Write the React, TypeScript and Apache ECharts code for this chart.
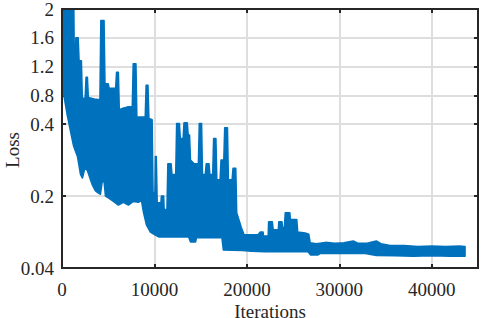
import React, { useEffect, useRef } from 'react';
import * as echarts from 'echarts';

// ---- data ----
const xTicks = [0, 10000, 20000, 30000, 40000];
const xMax = 45000;
const yTickValues = [0.04, 0.2, 0.4, 0.8, 1.2, 1.6, 2];
const yTickLabels = ['0.04', '0.2', '0.4', '0.8', '1.2', '1.6', '2'];
// non-linear scale used by the original axis (tick value -> scale position)
const yScaleStops = [0, 2.5, 5, 6, 7, 8, 9];

// upper envelope of the noisy loss curve: [iteration, loss]
const lossUpper: [number, number][] = [
  [0, 2.5], [1250, 2.5], [1350, 1.0], [1500, 1.6], [1750, 1.6], [1850, 1.28], [2100, 1.28],
  [2200, 0.76], [2500, 0.76], [2600, 1.05], [2750, 1.05], [2850, 0.77], [3500, 0.75], [4100, 0.74],
  [4200, 1.84], [4550, 1.84], [4650, 0.96], [5000, 0.96], [5100, 0.9], [5800, 0.9], [5900, 1.12],
  [6100, 1.12], [6200, 0.6], [6600, 0.62], [7100, 0.64], [7600, 0.64], [7700, 1.24], [8000, 1.24],
  [8100, 0.5], [9000, 0.5], [9100, 0.94], [9300, 0.94], [9400, 0.48], [9750, 0.46], [9850, 0.21],
  [10050, 0.21], [10100, 0.31], [10200, 0.31], [10300, 0.185], [10700, 0.185], [10750, 0.2],
  [11000, 0.2], [11050, 0.17], [11350, 0.17], [11450, 0.29], [11800, 0.29], [11900, 0.26],
  [12300, 0.26], [12400, 0.41], [12700, 0.41], [12800, 0.36], [13100, 0.36], [13200, 0.42],
  [13550, 0.42], [13650, 0.37], [13800, 0.37], [13900, 0.3], [14300, 0.29], [14750, 0.29],
  [14850, 0.41], [15100, 0.41], [15200, 0.26], [15500, 0.26], [15600, 0.29], [15900, 0.29],
  [16000, 0.26], [16300, 0.26], [16400, 0.36], [16650, 0.36], [16750, 0.245], [17100, 0.245],
  [17200, 0.3], [17500, 0.3], [17600, 0.39], [17900, 0.39], [18000, 0.245], [18400, 0.245],
  [18500, 0.277], [18800, 0.277], [18900, 0.163], [19400, 0.13], [19700, 0.114], [21200, 0.114],
  [21450, 0.12], [21750, 0.12], [21800, 0.111], [22300, 0.111], [22350, 0.143], [22750, 0.143],
  [22850, 0.125], [23400, 0.125], [23450, 0.143], [23800, 0.143], [23850, 0.13], [24050, 0.13],
  [24150, 0.163], [24650, 0.163], [24700, 0.148], [25400, 0.148], [25500, 0.12], [26300, 0.118],
  [26700, 0.115], [26850, 0.096], [27500, 0.094], [28500, 0.097], [29500, 0.095], [30500, 0.096],
  [31500, 0.1], [32000, 0.095], [33000, 0.095], [34000, 0.1], [34500, 0.094], [35500, 0.09],
  [37000, 0.09], [38500, 0.088], [40000, 0.089], [41500, 0.088], [43000, 0.089], [43600, 0.088],
];

// lower envelope of the noisy loss curve: [iteration, loss]
const lossLower: [number, number][] = [
  [0, 0.95], [200, 0.8], [560, 0.53], [920, 0.38], [1240, 0.34], [1670, 0.31], [2000, 0.26],
  [2210, 0.25], [2500, 0.28], [2750, 0.27], [3290, 0.23], [3600, 0.215], [3830, 0.21], [4160, 0.205],
  [4350, 0.24], [4550, 0.24], [4700, 0.2], [5020, 0.196], [5560, 0.188], [6100, 0.18], [6640, 0.186],
  [7180, 0.18], [7720, 0.188], [8260, 0.186], [8600, 0.19], [8800, 0.165], [9130, 0.136], [9560, 0.12],
  [10100, 0.113], [10500, 0.109], [13700, 0.109], [13900, 0.098], [14450, 0.098], [14550, 0.107],
  [17300, 0.107], [17450, 0.08], [19500, 0.079], [20500, 0.077], [22000, 0.076], [26600, 0.076],
  [26900, 0.069], [27700, 0.069], [28000, 0.073], [32800, 0.072], [34000, 0.068], [36000, 0.067],
  [38000, 0.066], [40000, 0.067], [42000, 0.066], [43600, 0.066],
];

const BLUE = '#0072BD';
const INK = '#262626';
const GRIDC = '#dedede';
const FONT = 'Liberation Serif';

function toScale(v: number): number {
  const vs = yTickValues;
  const ss = yScaleStops;
  let i = 0;
  if (v <= vs[0]) i = 0;
  else if (v >= vs[vs.length - 1]) i = vs.length - 2;
  else {
    while (v > vs[i + 1]) i++;
  }
  return ss[i] + ((v - vs[i]) * (ss[i + 1] - ss[i])) / (vs[i + 1] - vs[i]);
}

function labelFor(pos: number): string {
  for (let i = 0; i < yScaleStops.length; i++) {
    if (Math.abs(yScaleStops[i] - pos) < 1e-6) return yTickLabels[i];
  }
  return '';
}

const W = 484;
const H = 318;
const GRID_LEFT = 62;
const GRID_RIGHT = 6;
const GRID_TOP = 9;
const GRID_BOTTOM = 50;
const PLOT_W = W - GRID_LEFT - GRID_RIGHT;
const PLOT_H = H - GRID_TOP - GRID_BOTTOM;

export default function App() {
  const ref = useRef<HTMLDivElement>(null);
  useEffect(() => {
    if (!ref.current) return;
    const chart = echarts.init(ref.current, null, { renderer: 'svg' });
    const yMin = yScaleStops[0];
    const yMax = yScaleStops[yScaleStops.length - 1];
    const xInner = xTicks.filter((v) => v > xTicks[0] && v < xMax);
    const yInner = yScaleStops.filter((v) => v > yMin && v < yMax);
    chart.setOption({
      animation: false,
      grid: { left: GRID_LEFT, right: GRID_RIGHT, top: GRID_TOP, bottom: GRID_BOTTOM, outerBoundsMode: 'none' },
      xAxis: [
        {
          // labels + vertical grid lines (drawn as full-length ticks)
          type: 'value', min: xTicks[0], max: xMax, interval: 10000, position: 'bottom',
          axisLine: { show: false, onZero: false },
          axisTick: { show: true, inside: true, length: PLOT_H, customValues: xInner, lineStyle: { color: GRIDC, width: 2 } },
          axisLabel: {
            show: true, margin: 12, color: INK, fontFamily: FONT, fontSize: 19,
            customValues: xTicks, formatter: (v: number) => String(v),
          },
          splitLine: { show: false },
          name: 'Iterations', nameLocation: 'middle', nameGap: 34, nameMoveOverlap: false,
          nameTextStyle: { color: INK, fontFamily: FONT, fontSize: 19 },
        },
        {
          type: 'value', min: xTicks[0], max: xMax, interval: 10000, position: 'top',
          axisLine: { show: true, onZero: false, lineStyle: { color: INK, width: 2 } },
          axisTick: { show: true, inside: true, length: 4, customValues: xInner, lineStyle: { color: INK, width: 2 } },
          axisLabel: { show: false },
          splitLine: { show: false },
        },
        {
          type: 'value', min: xTicks[0], max: xMax, interval: 10000, position: 'bottom',
          axisLine: { show: true, onZero: false, lineStyle: { color: INK, width: 2 } },
          axisTick: { show: true, inside: true, length: 4, customValues: xInner, lineStyle: { color: INK, width: 2 } },
          axisLabel: { show: false },
          splitLine: { show: false },
        },
      ],
      yAxis: [
        {
          // labels + horizontal grid lines (drawn as full-length ticks)
          type: 'value', min: yMin, max: yMax, position: 'left',
          axisLine: { show: false, onZero: false },
          axisTick: { show: true, inside: true, length: PLOT_W, customValues: yInner, lineStyle: { color: GRIDC, width: 2 } },
          axisLabel: {
            show: true, margin: 8, color: INK, fontFamily: FONT, fontSize: 19,
            customValues: yScaleStops, formatter: (v: number) => labelFor(v),
          },
          splitLine: { show: false },
        },
        {
          type: 'value', min: yMin, max: yMax, position: 'right',
          axisLine: { show: true, onZero: false, lineStyle: { color: INK, width: 2 } },
          axisTick: { show: true, inside: true, length: 4, customValues: yInner, lineStyle: { color: INK, width: 2 } },
          axisLabel: { show: false, customValues: yInner },
          splitLine: { show: false },
        },
        {
          type: 'value', min: yMin, max: yMax, position: 'left',
          axisLine: { show: true, onZero: false, lineStyle: { color: INK, width: 2 } },
          axisTick: { show: true, inside: true, length: 4, customValues: yInner, lineStyle: { color: INK, width: 2 } },
          axisLabel: { show: false, customValues: yInner },
          splitLine: { show: false },
        },
      ],
      graphic: [
        {
          type: 'text', x: 12, y: 150, rotation: Math.PI / 2, z: 100,
          style: {
            text: 'Loss', fill: INK, fontFamily: FONT, fontSize: 19,
            align: 'center', verticalAlign: 'middle',
          },
        },
        {
          // plot frame (box around the axes area)
          type: 'rect', z: 100, silent: true,
          shape: { x: GRID_LEFT, y: GRID_TOP, width: PLOT_W, height: PLOT_H },
          style: { fill: 'none', stroke: INK, lineWidth: 2 },
        },
      ],
      series: [
        {
          type: 'custom',
          coordinateSystem: 'cartesian2d',
          xAxisIndex: 0,
          yAxisIndex: 0,
          clip: true,
          silent: true,
          data: [[0, 0]],
          renderItem: (_params: any, api: any) => {
            const pts = [
              ...lossUpper.map(([x, v]) => api.coord([x, toScale(v)])),
              ...lossLower.slice().reverse().map(([x, v]) => api.coord([x, toScale(v)])),
            ];
            return {
              type: 'polygon',
              shape: { points: pts },
              style: { fill: BLUE, stroke: BLUE, lineWidth: 1.5, lineJoin: 'round' },
            };
          },
        },
      ],
    });
    return () => chart.dispose();
  }, []);
  return <div ref={ref} style={{ position: 'fixed', left: 0, top: 0, width: W, height: H, background: '#fff' }} />;
}
